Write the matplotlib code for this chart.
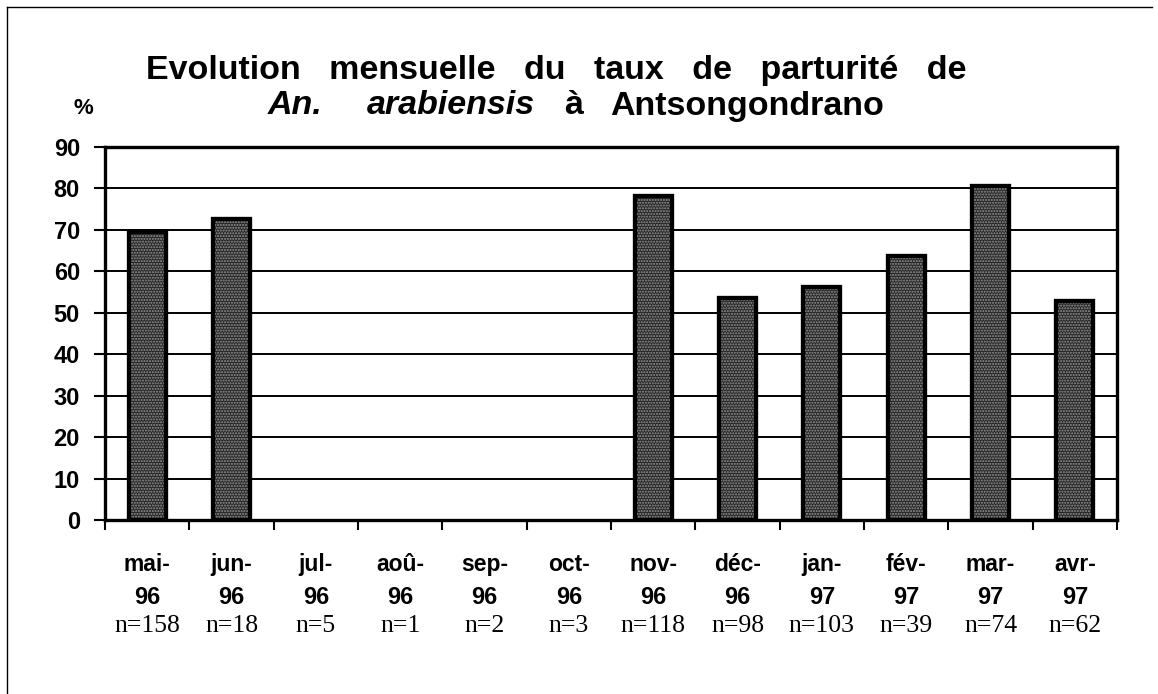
import matplotlib
matplotlib.use("Agg")
import matplotlib.pyplot as plt
from matplotlib.lines import Line2D

months = ["mai-", "jun-", "jul-", "aoû-", "sep-", "oct-", "nov-", "déc-", "jan-", "fév-", "mar-", "avr-"]
years = ["96", "96", "96", "96", "96", "96", "96", "96", "97", "97", "97", "97"]
n_values = [158, 18, 5, 1, 2, 3, 118, 98, 103, 39, 74, 62]
parturity = [69.5, 72.7, 0, 0, 0, 0, 78.2, 53.6, 56.2, 63.8, 80.6, 52.8]

SANS = "Liberation Sans"
SERIF = "Liberation Serif"

W, H = 1158, 694
fig = plt.figure(figsize=(W / 100, H / 100), dpi=100)
fig.patch.set_facecolor("white")

L, R, T, B = 105, 1117, 147, 520
ax = fig.add_axes([L / W, 1 - B / H, (R - L) / W, (B - T) / H])

x = list(range(len(months)))
bx = [i for i in x if parturity[i] > 0]
bh = [parturity[i] for i in bx]
ax.bar(bx, bh, width=0.44, color="#262626", edgecolor="black", linewidth=3, zorder=3)
ax.bar(bx, bh, width=0.44, facecolor="none", edgecolor="#959595", hatch="......",
       linewidth=0, zorder=4)
ax.bar(bx, bh, width=0.44, facecolor="none", edgecolor="black", linewidth=3, zorder=5)

ax.set_xlim(-0.5, len(months) - 0.5)
ax.set_ylim(0, 90)
ax.set_yticks(range(0, 91, 10))
ax.yaxis.grid(True, color="black", linewidth=1.4, zorder=1)
ax.set_axisbelow(True)

for s in ax.spines.values():
    s.set_linewidth(2.4)
    s.set_color("black")

ax.tick_params(axis="y", direction="out", length=8, width=1.5, pad=10)
for lab in ax.get_yticklabels():
    lab.set_fontfamily(SANS)
    lab.set_fontweight("bold")
    lab.set_fontsize(17)

ax.set_xticks([i + 0.5 for i in range(-1, len(months))])
ax.set_xticklabels([])
ax.tick_params(axis="x", direction="out", length=7, width=1.5)

for i in x:
    ax.text(i, -0.12, months[i], transform=ax.get_xaxis_transform(), ha="center", va="center",
            fontfamily=SANS, fontweight="bold", fontsize=16.5)
    ax.text(i, -0.208, years[i], transform=ax.get_xaxis_transform(), ha="center", va="center",
            fontfamily=SANS, fontweight="bold", fontsize=17)
    ax.text(i, -0.283, f"n={n_values[i]}", transform=ax.get_xaxis_transform(), ha="center", va="center",
            fontfamily=SERIF, fontsize=18.5)

# "%" label
fig.text(83 / W, 1 - 109 / H, "%", ha="center", va="center", fontfamily=SANS,
         fontweight="bold", fontsize=16)

# Title line 1 (word-justified like the original)
fig.text(556 / W, 1 - 70 / H, "Evolution   mensuelle   du   taux   de   parturité   de",
         ha="center", va="center", fontfamily=SANS, fontweight="bold", fontsize=24.5)

# Title line 2: words centred at their positions in the original
line2 = [("An.", "italic", 295), ("arabiensis", "italic", 451), ("à", "normal", 574),
         ("Antsongondrano", "normal", 747)]
for word, style, px in line2:
    fig.text(px / W, 1 - 106 / H, word, ha="center", va="center", fontfamily=SANS,
             fontweight="bold", fontstyle=style, fontsize=24.5)

# outer frame lines
fig.add_artist(Line2D([7 / W, 1152 / W], [1 - 7 / H, 1 - 7 / H], color="black", linewidth=1.0))
fig.add_artist(Line2D([7 / W, 7 / W], [1 - 7 / H, 0], color="black", linewidth=1.0))

fig.savefig("out.png", dpi=100, facecolor="white")
